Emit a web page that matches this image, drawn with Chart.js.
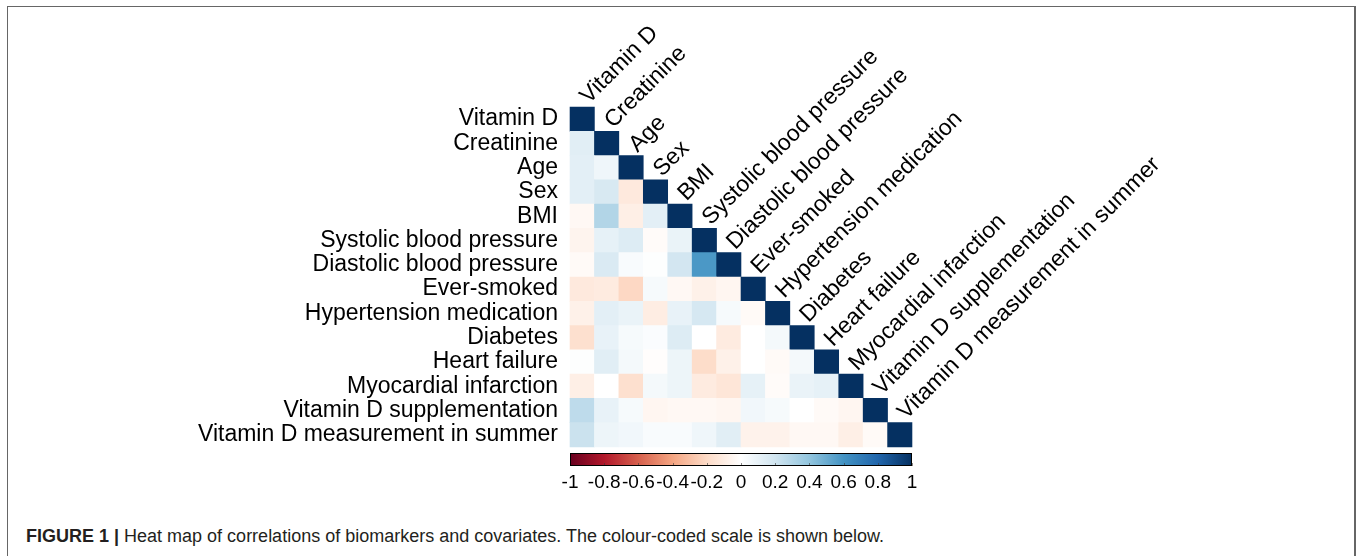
<!DOCTYPE html>
<html>
<head>
<meta charset="utf-8">
<title>Heat map of correlations</title>
<script src="https://cdn.jsdelivr.net/npm/chart.js@4.4.0/dist/chart.umd.min.js"></script>
<style>
    html, body { margin: 0; padding: 0; background: #fff; }
    body { width: 1357px; height: 556px; position: relative; overflow: hidden; font-family: "Liberation Sans", Arial, sans-serif; }
    .frame { position: absolute; left: 7px; top: 6px; width: 1349px; height: 620px; border: 1px solid #666; border-right-width: 2px; box-sizing: border-box; }
    #heat { position: absolute; left: 0; top: 0; }
    .caption { position: absolute; left: 26px; top: 526px; font-size: 18px; color: #231f20; white-space: nowrap; }
</style>
</head>
<body>
<div class="frame"></div>
<canvas id="heat" width="1357" height="500"></canvas>
<div class="caption"><b>FIGURE 1 |</b> Heat map of correlations of biomarkers and covariates. The colour-coded scale is shown below.</div>

<script>
        // --- Dados ---
        const variables = [
            'Vitamin D', 'Creatinine', 'Age', 'Sex', 'BMI',
            'Systolic blood pressure', 'Diastolic blood pressure', 'Ever-smoked',
            'Hypertension medication', 'Diabetes', 'Heart failure',
            'Myocardial infarction', 'Vitamin D supplementation', 'Vitamin D measurement in summer'
        ];

        // lower triangle, row i holds columns 0..i-1 (diagonal is 1)
        const corrRows = [
            [],
            [0.13],
            [0.12, 0.07],
            [0.12, 0.17, -0.12],
            [-0.04, 0.30, -0.09, 0.12],
            [-0.06, 0.11, 0.15, -0.02, 0.09],
            [-0.03, 0.16, 0.03, 0.01, 0.19, 0.58],
            [-0.12, -0.11, -0.21, 0.04, -0.04, -0.08, -0.05],
            [-0.08, 0.12, 0.09, -0.10, 0.10, 0.18, 0.04, -0.03],
            [-0.17, 0.10, 0.04, 0.02, 0.15, 0.00, -0.11, 0.00, 0.05],
            [0.01, 0.13, 0.05, -0.01, 0.08, -0.19, -0.08, 0.00, -0.03, 0.05],
            [-0.09, 0.00, -0.17, 0.05, 0.08, -0.11, -0.14, 0.11, -0.02, 0.09, 0.11],
            [0.26, 0.10, 0.04, -0.05, -0.04, -0.04, -0.05, 0.06, 0.04, 0.00, -0.03, -0.05],
            [0.22, 0.08, 0.06, 0.03, 0.03, 0.07, 0.13, -0.07, -0.07, -0.04, -0.04, -0.09, -0.03]
        ];

        const scaleTicks = [-1, -0.8, -0.6, -0.4, -0.2, 0, 0.2, 0.4, 0.6, 0.8, 1];

        // RdBu palette (corrplot), from -1 to 1
        const rdbu = ['#67001F', '#B2182B', '#D6604D', '#F4A582', '#FDDBC7', '#FFFFFF',
                      '#D1E5F0', '#92C5DE', '#4393C3', '#2166AC', '#053061'];

        const FONT = '"Liberation Sans", Arial, sans-serif';

        function hexToRgb(h) {
            return [parseInt(h.substr(1, 2), 16), parseInt(h.substr(3, 2), 16), parseInt(h.substr(5, 2), 16)];
        }

        function corrColor(v) {
            const t = (Math.max(-1, Math.min(1, v)) + 1) / 2 * (rdbu.length - 1);
            const i = Math.min(Math.floor(t), rdbu.length - 2);
            const f = t - i;
            const a = hexToRgb(rdbu[i]), b = hexToRgb(rdbu[i + 1]);
            const c = a.map((x, k) => Math.round(x + (b[k] - x) * f));
            return `rgb(${c[0]}, ${c[1]}, ${c[2]})`;
        }

        const cells = [];
        variables.forEach((rowName, i) => {
            for (let j = 0; j <= i; j++) {
                cells.push({ x: variables[j], y: rowName, v: j === i ? 1 : corrRows[i][j] });
            }
        });

        function cellSize(chart) {
            const a = chart.chartArea;
            return a ? (a.right - a.left) / variables.length : 24;
        }

        // --- Rótulos diagonais + barra de cores ---
        const extras = {
            id: 'extras',
            afterDraw(chart) {
                const { ctx, chartArea: a, scales } = chart;
                const c = cellSize(chart);
                ctx.save();
                ctx.font = `23px ${FONT}`;
                ctx.fillStyle = '#000';
                ctx.textAlign = 'left';
                ctx.textBaseline = 'middle';
                variables.forEach((name, j) => {
                    const x = scales.x.getPixelForValue(j);
                    const y = scales.y.getPixelForValue(j) - c / 2;
                    ctx.save();
                    ctx.translate(x + 2, y - 7);
                    ctx.rotate(-Math.PI / 4);
                    ctx.fillText(name, 0, 0);
                    ctx.restore();
                });

                const cb = scales.cb;
                const top = a.bottom + 6, h = 13;
                const g = ctx.createLinearGradient(cb.left, 0, cb.right, 0);
                rdbu.forEach((col, i) => g.addColorStop(i / (rdbu.length - 1), col));
                ctx.fillStyle = g;
                ctx.fillRect(cb.left, top, cb.right - cb.left, h);
                ctx.strokeStyle = 'rgba(60,60,60,0.6)';
                ctx.lineWidth = 1;
                scaleTicks.forEach(v => {
                    const x = Math.round(cb.getPixelForValue(v)) + 0.5;
                    ctx.beginPath(); ctx.moveTo(x, top + h - 3); ctx.lineTo(x, top + h); ctx.stroke();
                });
                ctx.strokeStyle = '#000';
                ctx.strokeRect(cb.left + 0.5, top + 0.5, cb.right - cb.left - 1, h - 1);
                ctx.restore();
            }
        };

        const chart = new Chart(document.getElementById('heat'), {
            type: 'scatter',
            data: {
                datasets: [{
                    data: cells,
                    pointStyle: 'rect',
                    backgroundColor: ctx => corrColor(ctx.raw ? ctx.raw.v : 0),
                    borderWidth: 0,
                    pointRadius: ctx => (cellSize(ctx.chart) + 0.6) / Math.SQRT2,
                    pointHoverRadius: ctx => (cellSize(ctx.chart) + 0.6) / Math.SQRT2,
                    hoverBorderWidth: 0
                }]
            },
            options: {
                responsive: false,
                animation: false,
                layout: { padding: { left: 10, right: 445, top: 107, bottom: 8 } },
                plugins: {
                    legend: { display: false },
                    tooltip: {
                        callbacks: { label: c => `${c.raw.y} / ${c.raw.x}: ${c.raw.v}` }
                    }
                },
                scales: {
                    x: { type: 'category', labels: variables, offset: true, display: false },
                    y: {
                        type: 'category', labels: variables, offset: true,
                        grid: { display: false, drawTicks: false }, border: { display: false },
                        ticks: { color: '#000', font: { size: 23, family: FONT }, padding: 12, autoSkip: false },
                        afterFit: s => { s.width = 560; }
                    },
                    cb: {
                        type: 'linear', axis: 'x', position: 'bottom', min: -1, max: 1,
                        grid: { display: false, drawTicks: false }, border: { display: false },
                        ticks: {
                            color: '#000', font: { size: 19, family: FONT }, padding: 24,
                            autoSkip: false, maxRotation: 0, callback: v => String(v)
                        },
                        afterBuildTicks: s => { s.ticks = scaleTicks.map(v => ({ value: v })); },
                        afterFit: s => { s.height = 45; }
                    }
                }
            },
            plugins: [extras]
        });
</script>
</body>
</html>
